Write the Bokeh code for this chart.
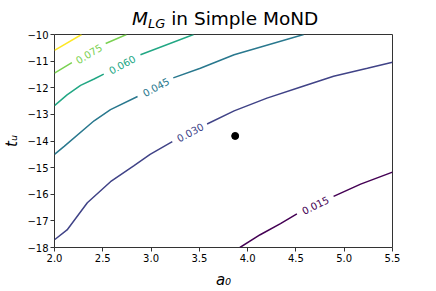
import math
from bokeh.plotting import figure
from bokeh.models import Range1d, FixedTicker, ColumnDataSource, Div
from bokeh.layouts import column
from bokeh.core.properties import value
from bokeh.palettes import Viridis256
from bokeh.embed import file_html
from bokeh.resources import INLINE

NaN = float("nan")

# contour levels (viridis mapped) and their inline labels
levels = [0.015, 0.030, 0.045, 0.060, 0.075, 0.090]

# contour polylines (NaN = gap for the inline label)
c015_a0 = [3.92, 4.13, 4.34, 4.51, NaN, 4.89, 5.17, 5.50]
c015_tu = [-18.00, -17.52, -17.10, -16.74, NaN, -16.08, -15.62, -15.17]

c030_a0 = [2.00, 2.13, 2.34, 2.58, 2.82, 2.99, 3.22, NaN, 3.58, 3.86, 4.20, 4.55, 4.89, 5.24, 5.50]
c030_tu = [-17.71, -17.34, -16.32, -15.53, -14.93, -14.50, -14.02, NaN, -13.36, -12.87, -12.39, -11.97, -11.57, -11.27, -11.04]

c045_a0 = [2.00, 2.10, 2.41, 2.58, 2.86, NaN, 3.23, 3.51, 3.86, 4.58]
c045_tu = [-14.50, -14.20, -13.24, -12.82, -12.33, NaN, -11.63, -11.27, -10.76, -10.00]

c060_a0 = [2.00, 2.13, 2.27, 2.41, 2.51, NaN, 2.89, 3.44]
c060_tu = [-12.67, -12.27, -11.91, -11.67, -11.49, NaN, -10.76, -10.00]

c075_a0 = [2.00, 2.18, NaN, 2.53, 2.745]
c075_tu = [-11.45, -11.06, NaN, -10.34, -10.00]

c090_a0 = [2.00, 2.28]
c090_tu = [-10.60, -10.00]

contour_a0 = [c015_a0, c030_a0, c045_a0, c060_a0, c075_a0, c090_a0]
contour_tu = [c015_tu, c030_tu, c045_tu, c060_tu, c075_tu, c090_tu]

label_text = ["0.015", "0.030", "0.045", "0.060", "0.075"]
label_a0 = [4.70, 3.405, 3.050, 2.700, 2.356]
label_tu = [-16.41, -13.67, -11.97, -11.125, -10.72]
label_angle_deg = [26.4, 27.6, 28.4, 28.8, 30.5]

point_a0 = [3.871]
point_tu = [-13.81]

x_ticks = [2.0, 2.5, 3.0, 3.5, 4.0, 4.5, 5.0, 5.5]
x_tick_labels = ["2.0", "2.5", "3.0", "3.5", "4.0", "4.5", "5.0", "5.5"]
y_ticks = [-18, -17, -16, -15, -14, -13, -12, -11, -10]
y_tick_labels = ["\u221218", "\u221217", "\u221216", "\u221215", "\u221214",
                 "\u221213", "\u221212", "\u221211", "\u221210"]

title_main = "M"
title_sub = "LG"
title_rest = " in Simple MoND"
x_label = "a\u2080"
y_label = "t\u1d64"

lo, hi = levels[0], levels[-1]
colors = [Viridis256[round((lv - lo) / (hi - lo) * 255)] for lv in levels]

FONT = "DejaVu Sans"

p = figure(width=436, height=261, title=None, toolbar_location=None,
           output_backend="svg",
           x_range=Range1d(2.0, 5.5), y_range=Range1d(-18, -10),
           min_border_left=54, min_border_right=44,
           min_border_top=4, min_border_bottom=36)
p.background_fill_color = "white"
p.border_fill_color = "white"
p.outline_line_color = "#333333"
p.outline_line_width = 1
p.xgrid.visible = False
p.ygrid.visible = False

for xs, ys, col in zip(contour_a0, contour_tu, colors):
    p.line(xs, ys, line_color=col, line_width=1.5)

src = ColumnDataSource(dict(
    x=label_a0, y=label_tu, text=label_text,
    angle=[math.radians(a) for a in label_angle_deg],
    color=colors[:len(label_text)],
))
p.text(x="x", y="y", text="text", angle="angle", text_color="color", source=src,
       text_font=value(FONT), text_font_size="10px",
       text_align="center", text_baseline="middle")

p.scatter(point_a0, point_tu, size=7, color="black")

p.xaxis.ticker = FixedTicker(ticks=x_ticks)
p.yaxis.ticker = FixedTicker(ticks=y_ticks)
p.xaxis.major_label_overrides = {t: s for t, s in zip(x_ticks, x_tick_labels)}
p.yaxis.major_label_overrides = {t: s for t, s in zip(y_ticks, y_tick_labels)}
p.xaxis.axis_label = x_label
p.yaxis.axis_label = y_label
for ax in (p.xaxis[0], p.yaxis[0]):
    ax.axis_line_color = None
    ax.major_tick_line_color = "#333333"
    ax.major_tick_out = 4
    ax.major_tick_in = 0
    ax.minor_tick_line_color = None
    ax.major_label_text_font = FONT
    ax.major_label_text_font_size = "10px"
    ax.major_label_text_color = "black"
    ax.major_label_standoff = 2
    ax.axis_label_text_font = FONT
    ax.axis_label_text_font_size = "15px"
    ax.axis_label_text_font_style = "italic"
    ax.axis_label_text_color = "black"
p.xaxis[0].axis_label_standoff = 6
p.yaxis[0].axis_label_standoff = 3

title_html = (
    '<div style="position:relative;width:436px;height:30px;">'
    '<span style="position:absolute;left:132px;top:10px;white-space:nowrap;'
    'font-family:DejaVu Sans,sans-serif;font-size:18.5px;line-height:18.5px;color:black;">'
    f'<i>{title_main}</i>'
    f'<span style="position:relative;top:3.4px;font-size:13px;font-style:italic;">{title_sub}</span>'
    f'{title_rest}</span></div>'
)
title_div = Div(text=title_html, width=436, height=30, margin=(0, 0, 0, 0),
                styles={"font-family": "DejaVu Sans, sans-serif", "font-size": "18px"})

layout = column(title_div, p, spacing=0)

open("out.html", "w").write(file_html(layout, INLINE))
